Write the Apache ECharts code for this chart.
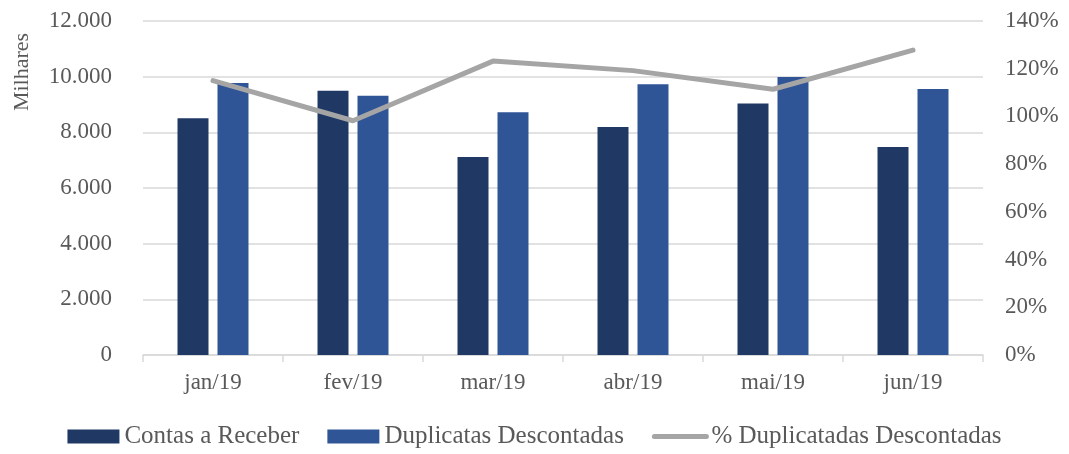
<!DOCTYPE html>
<html>
<head>
<meta charset="utf-8">
<script src="https://cdn.jsdelivr.net/npm/echarts@6/dist/echarts.min.js"></script>
<style>
html,body{margin:0;padding:0;background:#fff;}
#chart{width:1069px;height:454px;}
</style>
</head>
<body>
<div id="chart"></div>
<script>
const categories = ['jan/19','fev/19','mar/19','abr/19','mai/19','jun/19'];
const contasReceber = [8510, 9490, 7110, 8190, 9040, 7470];
const duplicatasDescontadas = [9770, 9310, 8725, 9730, 9990, 9560];
const pctDuplicatas = [115, 98.2, 123.2, 119.2, 111.4, 127.8];
const leftTicks = {min: 0, max: 12000, interval: 2000};
const rightTicks = {min: 0, max: 140, interval: 20};

const FONT = '"Liberation Serif", "Times New Roman", serif';
const TXT = '#595959';
const FS = 23;
const chart = echarts.init(document.getElementById('chart'));
function fmtThousands(v){
  return String(Math.round(v)).replace(/\B(?=(\d{3})+(?!\d))/g, '.');
}
chart.setOption({
  animation: false,
  textStyle: {fontFamily: FONT},
  grid: {left: 143, right: 86, top: 21, bottom: 99, containLabel: false},
  graphic: [{
    type: 'text', x: 22, y: 72, rotation: Math.PI/2,
    style: {text: 'Milhares', fill: TXT, font: '22px ' + FONT, align: 'center', verticalAlign: 'middle'}
  }],
  legend: {
    top: 422, left: 'center', padding: [2, 5, 2, 5],
    itemWidth: 52, itemHeight: 14, itemGap: 28,
    textStyle: {color: TXT, fontSize: 25, fontFamily: FONT},
    data: [
      {name: 'Contas a Receber', icon: 'rect'},
      {name: 'Duplicatas Descontadas', icon: 'rect'},
      {name: '% Duplicatadas Descontadas', itemStyle: {opacity: 0}, lineStyle: {width: 5, color: '#a5a5a5', cap: 'round'}}
    ]
  },
  xAxis: {
    type: 'category', data: categories,
    axisLine: {show: true, lineStyle: {color: '#d9d9d9', width: 1.5}},
    axisTick: {show: true, length: 7, lineStyle: {color: '#d9d9d9', width: 1.5}},
    axisLabel: {color: TXT, fontSize: FS, fontFamily: FONT, margin: 16}
  },
  yAxis: [{
    type: 'value', min: leftTicks.min, max: leftTicks.max, interval: leftTicks.interval,
    axisLine: {show: false}, axisTick: {show: false},
    splitLine: {lineStyle: {color: '#d9d9d9', width: 1.5}},
    axisLabel: {color: TXT, fontSize: FS, fontFamily: FONT, margin: 31, formatter: fmtThousands}
  }, {
    type: 'value', min: rightTicks.min, max: rightTicks.max, interval: rightTicks.interval,
    axisLine: {show: false}, axisTick: {show: false}, splitLine: {show: false},
    axisLabel: {color: TXT, fontSize: FS, fontFamily: FONT, margin: 22, formatter: v => v + '%'}
  }],
  series: [{
    name: 'Contas a Receber', type: 'bar', data: contasReceber,
    barWidth: 31, barGap: '29%',
    itemStyle: {color: '#1f3864'}
  }, {
    name: 'Duplicatas Descontadas', type: 'bar', data: duplicatasDescontadas,
    barWidth: 31,
    itemStyle: {color: '#2f5597'}
  }, {
    name: '% Duplicatadas Descontadas', type: 'line', yAxisIndex: 1, data: pctDuplicatas,
    symbol: 'none', lineStyle: {color: '#a5a5a5', width: 5, cap: 'round'},
    itemStyle: {color: '#a5a5a5'}
  }]
});
</script>
</body>
</html>
